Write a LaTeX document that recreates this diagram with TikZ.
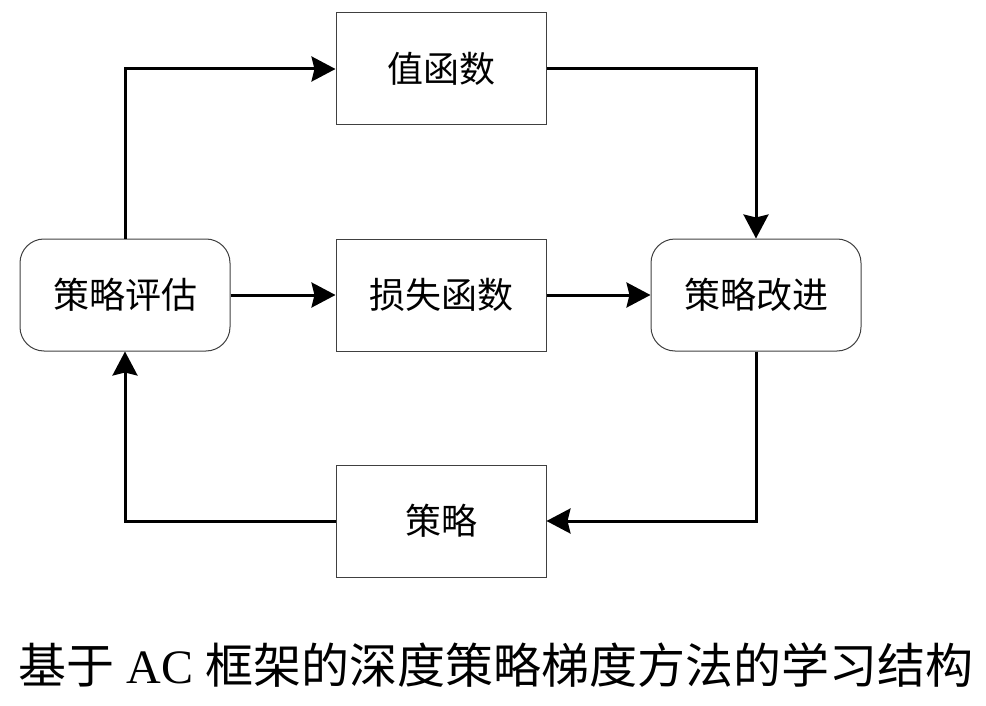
\documentclass[tikz,border=0pt]{standalone}
\usepackage{fontspec}
\setmainfont{Liberation Serif}
\newfontfamily\cjk{Noto Sans CJK SC}
\usetikzlibrary{arrows.meta,positioning}

\begin{document}
\begin{tikzpicture}[x=1pt,y=-1pt,
  box/.style={draw=black!75,line width=1pt,minimum width=210pt,minimum height=112pt,
    inner sep=0pt,font=\cjk\fontsize{36}{42}\selectfont},
  rbox/.style={box,rounded corners=24pt},
  flow/.style={line width=3pt,-{Stealth[length=24pt,width=25pt,inset=3pt]}}]
\useasboundingbox (0,0) rectangle (986,706);
% the five boxes
\node [rbox] (eval) at (125,295) {策略评估};
\node [box] (value) at (441,69) {值函数};
\node [box] (loss) at (441,295) {损失函数};
\node [rbox] (impr) at (756,295) {策略改进};
\node [box] (pol) at (441,521) {策略};
% connectors
\draw [flow] (eval.north) |- (value.west);
\draw [flow] (value.east) -| (impr.north);
\draw [flow] (eval.east) -- (loss.west);
\draw [flow] (loss.east) -- (impr.west);
\draw [flow] (impr.south) |- (pol.east);
\draw [flow] (pol.west) -| (eval.south);
% caption
\node (cap) at (496,665) {\fontsize{48}{54}\selectfont{\cjk 基于} AC {\cjk 框架的深度策略梯度方法的学习结构}};
\end{tikzpicture}
\end{document}
